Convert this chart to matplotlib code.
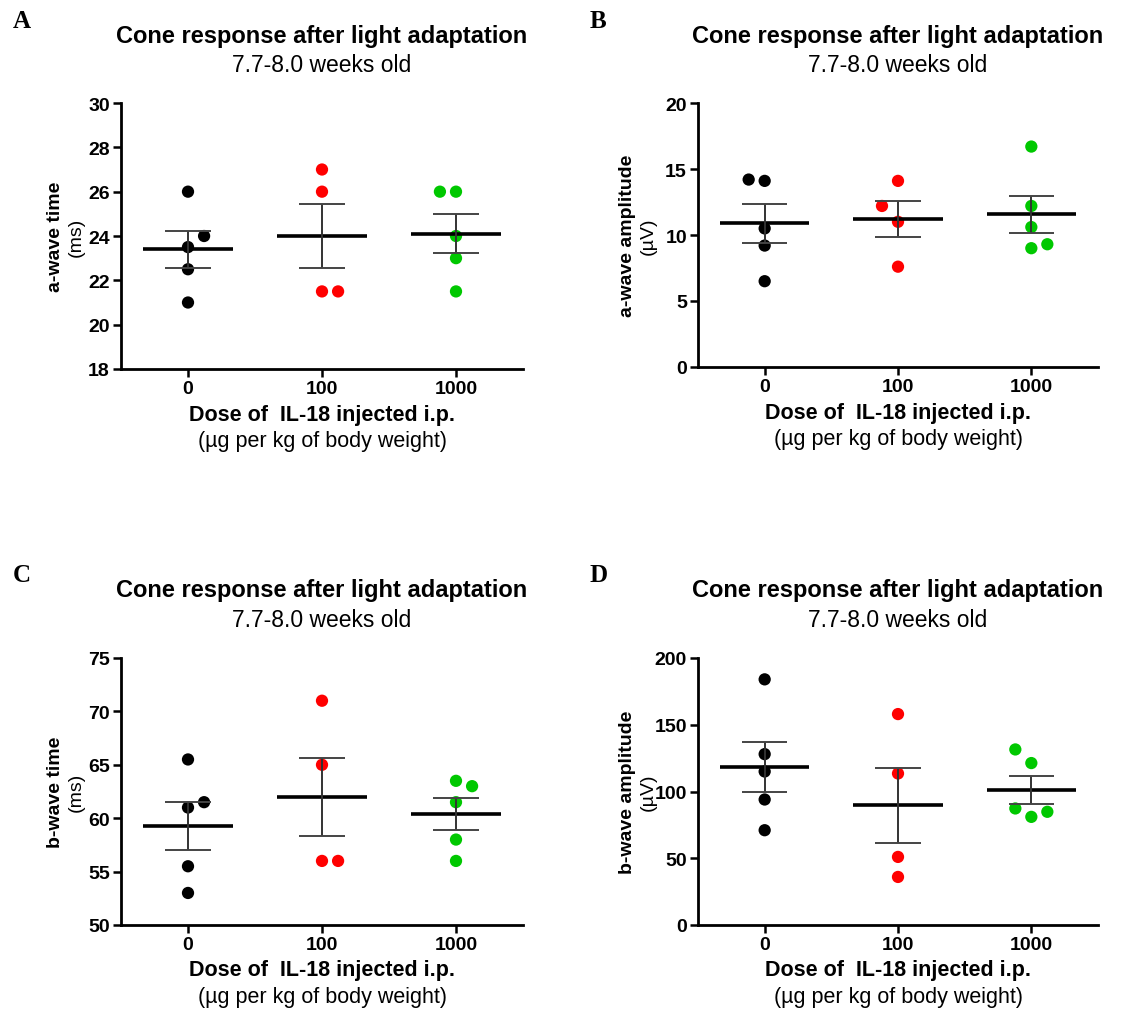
import numpy as np
import matplotlib
matplotlib.use("Agg")
from matplotlib import pyplot as plt

plt.rcParams['font.family'] = ['Liberation Sans', 'DejaVu Sans']

W, H = 1125, 1020

# doses on x axis
doses = ["0", "100", "1000"]
colors = ["#000000", "#ff0000", "#00c800"]

# A: a-wave time (ms)
a_time_0 = [26, 24, 23.5, 22.5, 21]
a_time_100 = [27, 26, 21.5, 21.5]
a_time_1000 = [26, 26, 24, 23, 21.5]

# B: a-wave amplitude (uV)
a_amp_0 = [14.2, 14.1, 10.5, 9.2, 6.5]
a_amp_100 = [14.1, 12.2, 11.0, 7.6]
a_amp_1000 = [16.7, 12.2, 10.6, 9.0, 9.3]

# C: b-wave time (ms)
b_time_0 = [65.5, 61.5, 61, 55.5, 53]
b_time_100 = [71, 65, 56, 56]
b_time_1000 = [63.5, 63, 61.5, 58, 56]

# D: b-wave amplitude (uV)
b_amp_0 = [184, 128, 115, 94, 71]
b_amp_100 = [158, 113.5, 51, 36]
b_amp_1000 = [131.5, 121.3, 87.3, 81, 84.8]

# horizontal nudges of overlapping dots (in dot steps)
jit_a_time = [[0, 1, 0, 0, 0], [0, 0, 0, 1], [-1, 0, 0, 0, 0]]
jit_a_amp = [[-1, 0, 0, 0, 0], [0, -1, 0, 0], [0, 0, 0, 0, 1]]
jit_b_time = [[0, 1, 0, 0, 0], [0, 0, 0, 1], [0, 1, 0, 0, 0]]
jit_b_amp = [[0, 0, 0, 0, 0], [0, 0, 0, 0], [-1, 0, -1, 0, 1]]

fig = plt.figure(figsize=(W / 100, H / 100), dpi=100)


def px_axes(l, t, r, b):
    return fig.add_axes([l / W, 1 - b / H, (r - l) / W, (b - t) / H])


def ftext(x, y, s, **kw):
    fig.text(x / W, 1 - y / H, s, ha="center", va="center", **kw)


def panel(box, groups, jit, yticks, ylab, yunit, letter, labx):
    l, t, r, b = box
    ax = px_axes(l, t, r, b)
    for i, vals in enumerate(groups):
        vals = np.array(vals, dtype=float)
        xs = i + 0.12 * np.array(jit[i])
        ax.scatter(xs, vals, s=78, color=colors[i], edgecolors="none", zorder=2)
        m = vals.mean()
        sem = vals.std(ddof=1) / np.sqrt(len(vals))
        ax.hlines(m, i - 0.335, i + 0.335, color="black", lw=2.6, zorder=3)
        ax.vlines(i, m - sem, m + sem, color="#333333", lw=1.4, zorder=3)
        ax.hlines([m - sem, m + sem], i - 0.17, i + 0.17, color="#444444", lw=1.4, zorder=3)
    ax.set_xlim(-0.5, 2.5)
    ax.set_ylim(yticks[0], yticks[-1])
    ax.set_yticks(yticks)
    ax.set_xticks(range(3))
    ax.set_xticklabels(doses)
    for s in ["top", "right"]:
        ax.spines[s].set_visible(False)
    for s in ["left", "bottom"]:
        ax.spines[s].set_linewidth(2)
    ax.tick_params(direction="out", length=6, width=1.8, labelsize=14, pad=2)
    for lab in ax.get_xticklabels() + ax.get_yticklabels():
        lab.set_fontweight("bold")
    cx = (l + r) / 2
    ftext(cx, t - 68, "Cone response after light adaptation", fontsize=17, fontweight="bold")
    ftext(cx, t - 38, "7.7-8.0 weeks old", fontsize=16.5)
    ftext(cx, b + 45, "Dose of  IL-18 injected i.p.", fontsize=15.5, fontweight="bold")
    ftext(cx, b + 72, "(\u00b5g per kg of body weight)", fontsize=15.5)
    cy = (t + b) / 2
    ftext(labx, cy, ylab, fontsize=14, fontweight="bold", rotation=90)
    ftext(labx + 21, cy, yunit, fontsize=14, rotation=90)
    fig.text((l - 108) / W, 1 - (t - 83) / H, letter, fontsize=18, fontweight="bold",
             family="Liberation Serif", ha="left", va="center")
    return ax


panel((121, 104, 523, 370), [a_time_0, a_time_100, a_time_1000], jit_a_time,
      [18, 20, 22, 24, 26, 28, 30], "a-wave time", "(ms)", "A", 55)
panel((698, 104, 1098, 368), [a_amp_0, a_amp_100, a_amp_1000], jit_a_amp,
      [0, 5, 10, 15, 20], "a-wave amplitude", "(\u00b5V)", "B", 627)
panel((121, 659, 523, 926), [b_time_0, b_time_100, b_time_1000], jit_b_time,
      [50, 55, 60, 65, 70, 75], "b-wave time", "(ms)", "C", 55)
panel((698, 659, 1098, 926), [b_amp_0, b_amp_100, b_amp_1000], jit_b_amp,
      [0, 50, 100, 150, 200], "b-wave amplitude", "(\u00b5V)", "D", 627)

fig.savefig("out.png", dpi=100)
